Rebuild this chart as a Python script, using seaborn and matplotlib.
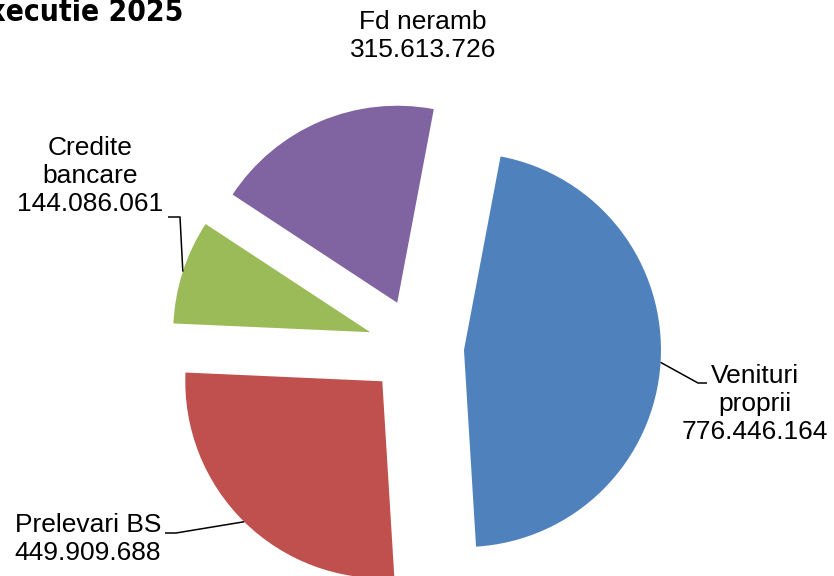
import numpy as np
import matplotlib
matplotlib.use("Agg")
import matplotlib.pyplot as plt
import seaborn as sns

# Data
categories = ["Venituri\nproprii", "Prelevari BS", "Credite\nbancare", "Fd neramb"]
amounts = [776446164, 449909688, 144086061, 315613726]
slice_colors = ["#4F81BD", "#C0504D", "#9BBB59", "#8064A2"]
chart_title = "Executie 2025"


def ro_number(v):
    return f"{v:,}".replace(",", ".")


sns.set_theme(style="white")
plt.rcParams["font.family"] = ["Liberation Sans", "DejaVu Sans"]

W, H = 834, 576
fig = plt.figure(figsize=(W / 100, H / 100), dpi=100)
ax = fig.add_axes([0, 0, 1, 1])

# pie centre and radius in pixels
R = 197
cx, cy = 416, 347


def px(x, y):
    # pixel (from top-left) -> data coords
    return (x - cx) / R, (cy - y) / R


wedges, _ = ax.pie(amounts, colors=slice_colors, startangle=79.3,
                   counterclock=False, explode=[0.244] * len(amounts),
                   radius=1, wedgeprops=dict(linewidth=0))

ax.set_xlim(-cx / R, (W - cx) / R)
ax.set_ylim(-(H - cy) / R, cy / R)
ax.set_aspect("equal")
ax.axis("off")

# label centres and leader elbows (pixels)
label_pos = [(755, 404), (88, 539), (90, 176), (423, 36)]
elbows = [
    [(698, 383), (707, 383)],
    [(176, 533), (165, 533)],
    [(180, 217), (168, 217)],
    None,
]

for w, name, val, pos, elb in zip(wedges, categories, amounts, label_pos, elbows):
    ax.text(*px(*pos), f"{name}\n{ro_number(val)}", ha="center", va="center",
            fontsize=19, color="black", linespacing=1.2)
    if elb is None:
        continue
    mid = np.deg2rad((w.theta1 + w.theta2) / 2)
    x0 = w.center[0] + w.r * np.cos(mid)
    y0 = w.center[1] + w.r * np.sin(mid)
    pts = [(x0, y0)] + [px(*p) for p in elb]
    xs, ys = zip(*pts)
    ax.plot(xs, ys, color="black", lw=1.1, solid_capstyle="butt")

fig.text(183 / W, 1 - 21 / H, chart_title, ha="right", va="baseline",
         fontsize=21.5, fontweight="bold", fontstretch="condensed",
         color="black", family=["DejaVu Sans"])

fig.savefig("out.png", dpi=100)
